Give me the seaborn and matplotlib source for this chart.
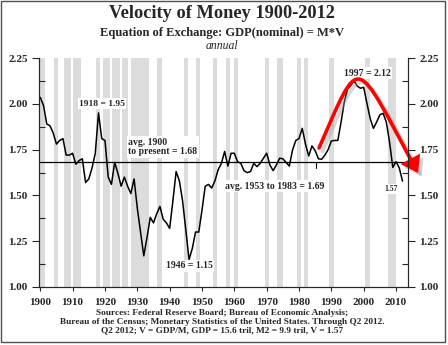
import matplotlib
matplotlib.use("Agg")
import matplotlib.pyplot as plt
import seaborn as sns
import numpy as np
import pandas as pd
from matplotlib.patches import FancyArrowPatch, Rectangle
from matplotlib.path import Path
import matplotlib.patheffects as pe

# ---------------- data ----------------
years = list(range(1900, 2013))
velocity = [
    2.035, 1.99, 1.89, 1.88, 1.84, 1.78, 1.80, 1.81, 1.72, 1.72,   # 1900s
    1.73, 1.67, 1.69, 1.70, 1.57, 1.59, 1.65, 1.73, 1.95, 1.81,    # 1910s
    1.80, 1.60, 1.56, 1.68, 1.62, 1.55, 1.60, 1.55, 1.51, 1.59,    # 1920s
    1.43, 1.30, 1.17, 1.27, 1.38, 1.35, 1.40, 1.44, 1.37, 1.35,    # 1930s
    1.32, 1.47, 1.63, 1.58, 1.47, 1.31, 1.15, 1.21, 1.30, 1.30,    # 1940s
    1.42, 1.55, 1.56, 1.54, 1.58, 1.64, 1.675, 1.74, 1.66, 1.73,   # 1950s
    1.73, 1.684, 1.675, 1.635, 1.624, 1.63, 1.675, 1.657, 1.675, 1.703,  # 1960s
    1.73, 1.666, 1.635, 1.666, 1.703, 1.70, 1.68, 1.66, 1.748, 1.80,     # 1970s
    1.81, 1.866, 1.78, 1.715, 1.77, 1.744, 1.70, 1.697, 1.72, 1.75,      # 1980s
    1.797, 1.80, 1.80, 1.90, 2.01, 2.08, 2.10, 2.126, 2.097, 2.085,      # 1990s
    2.09, 2.003, 1.92, 1.866, 1.90, 1.94, 1.948, 1.90, 1.79, 1.653,      # 2000s
    1.684, 1.65, 1.578,                                                  # 2010-2012
]
recession_start = [1899.5, 1904.2, 1907.3, 1910.0, 1917.2, 1919.3, 1922.2, 1925.4,
                   1928.2, 1936.1, 1944.3, 1948.2, 1953.5, 1957.4, 1960.0, 1969.5,
                   1973.3, 1979.4, 1981.6, 1989.4, 2000.4, 2007.5]
recession_end = [1901.5, 1905.5, 1909.4, 1912.6, 1918.5, 1921.5, 1924.6, 1927.2,
                 1933.6, 1937.6, 1945.7, 1949.5, 1954.6, 1958.7, 1961.2, 1970.8,
                 1974.9, 1980.5, 1982.7, 1990.8, 2002.0, 2009.9]
avg_all = 1.68
x_ticks = list(range(1900, 2011, 10))
y_ticks = [1.00, 1.25, 1.50, 1.75, 2.00, 2.25]

df = pd.DataFrame({"year": years, "velocity": velocity})

# ---------------- style ----------------
sns.set_style("ticks")
plt.rcParams['font.family'] = ['Liberation Serif', 'DejaVu Serif']
plt.rcParams['font.weight'] = 'bold'
plt.rcParams['axes.linewidth'] = 0.8

W, H = 448, 345
fig = plt.figure(figsize=(W / 100, H / 100), dpi=100)
fig.patch.set_facecolor('white')

def fp(x, y):
    return x / W, 1 - y / H

ax = fig.add_axes([39 / W, 58 / H, 369 / W, 229 / H])
ax.set_facecolor('white')

for s, e in zip(recession_start, recession_end):
    ax.axvspan(s, e, color='#dcdcdc', lw=0, zorder=0)

ax.axhline(avg_all, color='black', lw=0.9, zorder=2)
sns.lineplot(data=df, x="year", y="velocity", ax=ax, color='black', lw=1.1, zorder=3)
ax.plot([1985.3, 1985.3], [avg_all, 1.65], color='black', lw=0.8, zorder=2)

ax.set_xlim(1899.6, 2013.7)
ax.set_ylim(1.0, 2.25)
ax.set_xlabel("")
ax.set_ylabel("")
ax.set_xticks(x_ticks)
ax.set_yticks(y_ticks)
ax.set_yticks(np.arange(1.125, 2.25, 0.25), minor=True)
ax.yaxis.set_major_formatter(matplotlib.ticker.FormatStrFormatter('%.2f'))
ax.spines['top'].set_visible(False)
ax.tick_params(axis='x', direction='out', length=3, width=0.8, labelsize=8, pad=5)
ax.tick_params(axis='y', which='major', direction='out', length=5, width=0.8, labelsize=8, pad=3)
ax.tick_params(axis='y', which='minor', direction='in', length=4, width=0.8)

ax2 = ax.twinx()
ax2.set_ylim(1.0, 2.25)
ax2.set_yticks(y_ticks)
ax2.set_yticks(np.arange(1.125, 2.25, 0.25), minor=True)
ax2.yaxis.set_major_formatter(matplotlib.ticker.FormatStrFormatter('%.2f'))
ax2.spines['top'].set_visible(False)
ax2.tick_params(axis='y', which='major', direction='out', length=5, width=0.8, labelsize=8, pad=3)
ax2.tick_params(axis='y', which='minor', direction='in', length=4, width=0.8)

box = dict(facecolor='white', edgecolor='none', pad=1.0)
ax.text(1919.1, 2.0, "1918 = 1.95", fontsize=6.8, ha='center', va='center', bbox=box, zorder=5)
ax.text(1927.2, 1.764, "avg. 1900\nto present = 1.68", fontsize=7, ha='left', va='center',
        linespacing=1.1, bbox=box, zorder=5)
ax.text(1957.1, 1.551, "avg. 1953 to 1983 = 1.69", fontsize=7, ha='left', va='center', bbox=box, zorder=5)
ax.text(1946.0, 1.115, "1946 = 1.15", fontsize=7, ha='center', va='center', bbox=box, zorder=5)
ax.text(2001.0, 2.168, "1997 = 2.12", fontsize=7, ha='center', va='center', bbox=box, zorder=5)
ax.text(2008.5, 1.535, "1.57", fontsize=5.5, ha='center', va='center', bbox=box, zorder=5)

# red arrow (annotation)
verts = [(1986.2, 1.759), (1999.2, 2.283), (1996.9, 2.275), (2016.8, 1.622)]
codes = [Path.MOVETO, Path.CURVE4, Path.CURVE4, Path.CURVE4]
arrow = FancyArrowPatch(path=Path(verts, codes), arrowstyle='-|>,head_length=8,head_width=5.5',
                        color='#ff0000', lw=2.6, clip_on=False, zorder=6, shrinkA=0, shrinkB=0,
                        joinstyle='miter',
                        path_effects=[pe.SimpleLineShadow(offset=(2.5, -2.5), shadow_color='0.6', alpha=0.4),
                                      pe.Normal()])
ax.add_patch(arrow)

# titles
fig.text(*fp(222, 14), "Velocity of Money 1900-2012", fontsize=13.2, ha='center', va='center')
fig.text(*fp(222, 33), "Equation of Exchange: GDP(nominal) = M*V", fontsize=9, ha='center', va='center')
fig.text(*fp(222, 46), "annual", fontsize=8.5, style='italic', weight='normal', ha='center', va='center')

fig.text(*fp(222, 313.3), "Sources: Federal Reserve Board; Bureau of Economic Analysis;", fontsize=6.7,
         ha='center', va='center')
fig.text(*fp(222, 321.7), "Bureau of the Census; Monetary Statistics of the United States. Through Q2 2012.",
         fontsize=6.7, ha='center', va='center')
fig.text(*fp(222, 330.2), "Q2 2012; V = GDP/M, GDP = 15.6 tril, M2 = 9.9 tril, V = 1.57", fontsize=6.7,
         ha='center', va='center')

fig.patches.append(Rectangle((1 / W, 3 / H), 444 / W, 341 / H, transform=fig.transFigure,
                             fill=False, edgecolor='#505050', lw=1))

fig.savefig("out.png", dpi=100, facecolor='white')
